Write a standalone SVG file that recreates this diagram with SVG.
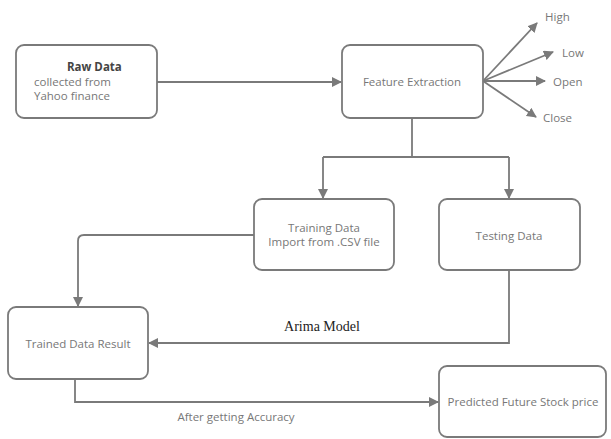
<svg xmlns="http://www.w3.org/2000/svg" width="611" height="439" viewBox="0 0 611 439">
<style>
.box{fill:#fff;stroke:#7a7a7a;stroke-width:1.8}
.t{font-family:"Open Sans",sans-serif;font-size:11.5px;fill:#777}
.c{text-anchor:middle}
.ln{fill:none;stroke:#7a7a7a;stroke-width:1.8}
</style>
<defs>
<marker id="ah" viewBox="0 0 10 10" refX="9" refY="5" markerWidth="10" markerHeight="10" markerUnits="userSpaceOnUse" orient="auto">
<path d="M0,0 L10,5 L0,10 Z" fill="#7a7a7a"/>
</marker>
</defs>
<rect width="611" height="439" fill="#fff"/>
<g id="connectors">
<path class="ln" d="M157,82 H341" marker-end="url(#ah)"/>
<path class="ln" d="M483,81 L537,23" marker-end="url(#ah)"/>
<path class="ln" d="M483,81 L553,52" marker-end="url(#ah)"/>
<path class="ln" d="M483,81 L545,81" marker-end="url(#ah)"/>
<path class="ln" d="M483,81 L536,117" marker-end="url(#ah)"/>
<path class="ln" d="M412,118 V157"/>
<path class="ln" d="M323,157 H509"/>
<path class="ln" d="M323,157 V198" marker-end="url(#ah)"/>
<path class="ln" d="M509,157 V198" marker-end="url(#ah)"/>
<path class="ln" d="M254,235 H84 Q78,235 78,241 V306" marker-end="url(#ah)"/>
<path class="ln" d="M509,270 V343 H149" marker-end="url(#ah)"/>
<path class="ln" d="M75,379 V402 H438" marker-end="url(#ah)"/>
</g>
<g id="raw">
<rect class="box" x="16" y="45" width="141" height="73" rx="8"/>
<text class="t" x="67" y="71" style="font-weight:bold;fill:#444">Raw Data</text>
<text class="t" x="34" y="86">collected from</text>
<text class="t" x="34" y="100">Yahoo finance</text>
</g>
<g id="feature">
<rect class="box" x="342" y="45" width="141" height="73" rx="8"/>
<text class="t c" x="412" y="86">Feature Extraction</text>
</g>
<g id="high"><text class="t" x="545" y="21">High</text></g>
<g id="low"><text class="t" x="562" y="57">Low</text></g>
<g id="open"><text class="t" x="553" y="86">Open</text></g>
<g id="close"><text class="t" x="543" y="122">Close</text></g>
<g id="training">
<rect class="box" x="254" y="199" width="140" height="71" rx="8"/>
<text class="t c" x="324" y="232">Training Data</text>
<text class="t c" x="324" y="246">Import from .CSV file</text>
</g>
<g id="testing">
<rect class="box" x="439" y="199" width="141" height="71" rx="8"/>
<text class="t c" x="509" y="240">Testing Data</text>
</g>
<g id="trained">
<rect class="box" x="8" y="307" width="140" height="72" rx="8"/>
<text class="t c" x="78" y="348">Trained Data Result</text>
</g>
<g id="predicted">
<rect class="box" x="439" y="366" width="167" height="71" rx="8"/>
<text class="t c" x="523" y="406">Predicted Future Stock price</text>
</g>
<text x="322" y="331" text-anchor="middle" style="font-family:'Liberation Serif',serif;font-size:14px;fill:#222">Arima Model</text>
<text class="t c" x="236" y="421">After getting Accuracy</text>
</svg>
